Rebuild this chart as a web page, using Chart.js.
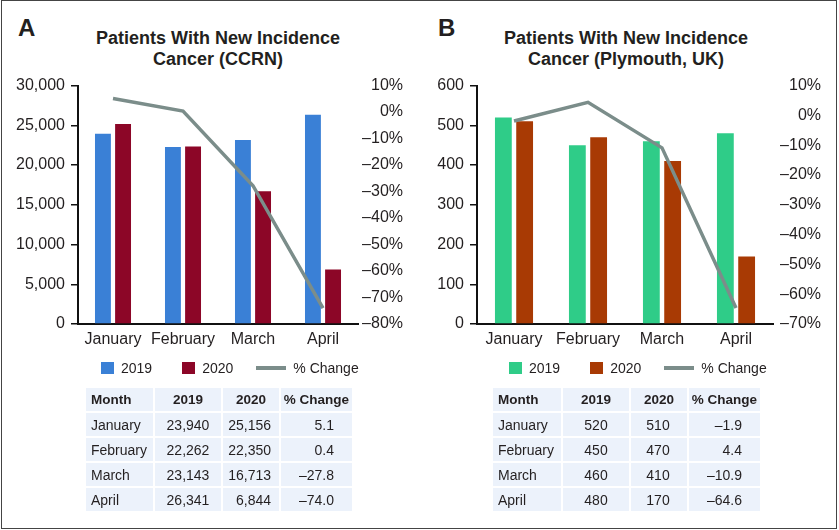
<!DOCTYPE html>
<html lang="en">
<head>
<meta charset="UTF-8" />
<title>Patients With New Incidence Cancer</title>
<script src="https://cdn.jsdelivr.net/npm/chart.js"></script>
<style>
  body {
    margin: 0;
    width: 839px;
    height: 530px;
    position: relative;
    overflow: hidden;
    background: #fff;
    font-family: "Liberation Sans", Arial, sans-serif;
    color: #231f20;
  }
  .frame {
    position: absolute;
    left: 1px; top: 0;
    width: 836px; height: 529px;
    box-sizing: border-box;
    border: 1.5px solid #444;
  }
  .letter {
    position: absolute;
    top: 16px;
    font-size: 24px;
    line-height: 24px;
    font-weight: bold;
  }
  .title {
    position: absolute;
    top: 28px;
    font-size: 18px;
    line-height: 21px;
    font-weight: bold;
    text-align: center;
  }
  canvas { position: absolute; top: 70px; }
  .legend {
    position: absolute;
    top: 359px;
    height: 18px;
    display: flex;
    align-items: center;
    font-size: 14px;
  }
  .legend .item { display: flex; align-items: center; }
  .legend .box { width: 13px; height: 12px; margin-right: 7px; }
  .legend .ln { width: 30px; height: 3.5px; margin-right: 7px; }
  table {
    position: absolute;
    top: 386px;
    border-collapse: separate;
    border-spacing: 2px;
    font-size: 14px;
  }
  td, th {
    background: #ecf2fb;
    height: 23px;
    padding: 0;
    vertical-align: middle;
  }
  th { font-size: 13.5px; text-align: center; }
  th.m, td.m { text-align: left; padding-left: 5px; }
  td.a { text-align: center; }
  td.b { text-align: right; padding-right: 8px; }
  #tblB td.b { text-align: center; padding-right: 2px; }
  td.c { text-align: right; padding-right: 18px; }
</style>
</head>
<body>
  <div class="frame"></div>

  <div class="letter" style="left:18px">A</div>
  <div class="title" style="left:0; width:436px">Patients With New Incidence<br>Cancer (CCRN)</div>
  <canvas id="chartA" width="418" height="290" style="left:0"></canvas>
  <div class="legend" id="legA" style="left:101px"></div>
  <table id="tblA" style="left:84px"></table>

  <div class="letter" style="left:438px">B</div>
  <div class="title" style="left:419px; width:414px">Patients With New Incidence<br>Cancer (Plymouth, UK)</div>
  <canvas id="chartB" width="420" height="290" style="left:419px"></canvas>
  <div class="legend" id="legB" style="left:509px"></div>
  <table id="tblB" style="left:491px"></table>

<script>
  // data
  const months = ['January', 'February', 'March', 'April'];
  const seriesNames = ['2019', '2020', '% Change'];

  const ccrn2019 = [23940, 22262, 23143, 26341];
  const ccrn2020 = [25156, 22350, 16713, 6844];
  const ccrnChange = [5.1, 0.4, -27.8, -74.0];

  const ply2019 = [520, 450, 460, 480];
  const ply2020 = [510, 470, 410, 170];
  const plyChange = [-1.9, 4.4, -10.9, -64.6];

  // axis ranges [min, max, step]
  const ccrnCountAxis = [0, 30000, 5000];
  const ccrnPctAxis = [-80, 10, 10];
  const plyCountAxis = [0, 600, 100];
  const plyPctAxis = [-70, 10, 10];

  const INK = '#231f20';
  const LINE_GREY = '#7b8d8a';

  Chart.defaults.font.family = '"Liberation Sans", Arial, sans-serif';
  Chart.defaults.font.size = 16;
  Chart.defaults.color = INK;

  const comma = v => String(v).replace(/\B(?=(\d{3})+(?!\d))/g, ',');
  const dash = v => (v < 0 ? '\u2013' + Math.abs(v) : String(v));
  const pct1 = v => (v < 0 ? '\u2013' + Math.abs(v).toFixed(1) : v.toFixed(1));

  // leftW / rightW: axis widths, padR: space right of the % labels
  function makeChart(id, s2019, s2020, change, colors, countAxis, pctAxis, leftW, rightW, padR) {
    return new Chart(document.getElementById(id), {
      type: 'bar',
      data: {
        labels: months,
        datasets: [
          {
            type: 'line',
            label: seriesNames[2],
            data: change,
            yAxisID: 'y1',
            borderColor: LINE_GREY,
            borderWidth: 3.5,
            pointRadius: 0,
            tension: 0,
            order: 0
          },
          {
            label: seriesNames[0],
            data: s2019,
            backgroundColor: colors[0],
            categoryPercentage: 0.575,
            barPercentage: 0.79,
            order: 1
          },
          {
            label: seriesNames[1],
            data: s2020,
            backgroundColor: colors[1],
            categoryPercentage: 0.575,
            barPercentage: 0.79,
            order: 1
          }
        ]
      },
      options: {
        responsive: false,
        animation: false,
        layout: { padding: { top: 14, right: padR, bottom: 0, left: 0 } },
        plugins: { legend: { display: false }, tooltip: { enabled: false } },
        scales: {
          x: {
            grid: { display: false, drawTicks: false },
            border: { display: true, color: '#111', width: 2 },
            ticks: { padding: 6, maxRotation: 0, minRotation: 0, autoSkip: false },
            afterFit: s => { s.height = 36; }
          },
          y: {
            position: 'left',
            min: countAxis[0],
            max: countAxis[1],
            ticks: { stepSize: countAxis[2], padding: 6, callback: v => comma(v) },
            grid: { drawOnChartArea: false, drawTicks: true, tickLength: 7, color: '#111', lineWidth: 1.5 },
            border: { display: true, color: '#111', width: 2 },
            afterFit: s => { s.width = leftW; }
          },
          y1: {
            position: 'right',
            min: pctAxis[0],
            max: pctAxis[1],
            ticks: { stepSize: pctAxis[2], padding: 4, crossAlign: 'far', callback: v => dash(v) + '%' },
            grid: { display: false, drawTicks: false },
            border: { display: false },
            afterFit: s => { s.width = rightW; }
          }
        }
      }
    });
  }

  function fillLegend(id, chart) {
    const el = document.getElementById(id);
    const ds = chart.data.datasets;
    const order = [1, 2, 0];
    const gaps = [30, 23, 0];
    order.forEach((k, i) => {
      const d = ds[k];
      const item = document.createElement('div');
      item.className = 'item';
      item.style.marginRight = gaps[i] + 'px';
      const sw = document.createElement('span');
      if (d.type === 'line') {
        sw.className = 'ln';
        sw.style.background = d.borderColor;
      } else {
        sw.className = 'box';
        sw.style.background = d.backgroundColor;
      }
      const tx = document.createElement('span');
      tx.textContent = d.label;
      item.appendChild(sw);
      item.appendChild(tx);
      el.appendChild(item);
    });
  }

  function fillTable(id, a, b, c, widths) {
    const t = document.getElementById(id);
    let html = '<tr><th class="m" style="width:' + widths[0] + 'px">Month</th>' +
      '<th style="width:' + widths[1] + 'px">2019</th>' +
      '<th style="width:' + widths[2] + 'px">2020</th>' +
      '<th style="width:' + widths[3] + 'px">% Change</th></tr>';
    months.forEach((m, i) => {
      html += '<tr><td class="m">' + m + '</td><td class="a">' + comma(a[i]) +
        '</td><td class="b">' + comma(b[i]) + '</td><td class="c">' + pct1(c[i]) + '</td></tr>';
    });
    t.innerHTML = html;
  }

  const chartA = makeChart('chartA', ccrn2019, ccrn2020, ccrnChange,
    ['#3a80d6', '#8c0627'], ccrnCountAxis, ccrnPctAxis, 78, 45, 15);
  const chartB = makeChart('chartB', ply2019, ply2020, plyChange,
    ['#2fcc88', '#a83a04'], plyCountAxis, plyPctAxis, 58, 48, 18);

  fillLegend('legA', chartA);
  fillLegend('legB', chartB);
  fillTable('tblA', ccrn2019, ccrn2020, ccrnChange, [62, 66, 56, 71]);
  fillTable('tblB', ply2019, ply2020, plyChange, [63, 66, 56, 71]);
</script>
</body>
</html>
